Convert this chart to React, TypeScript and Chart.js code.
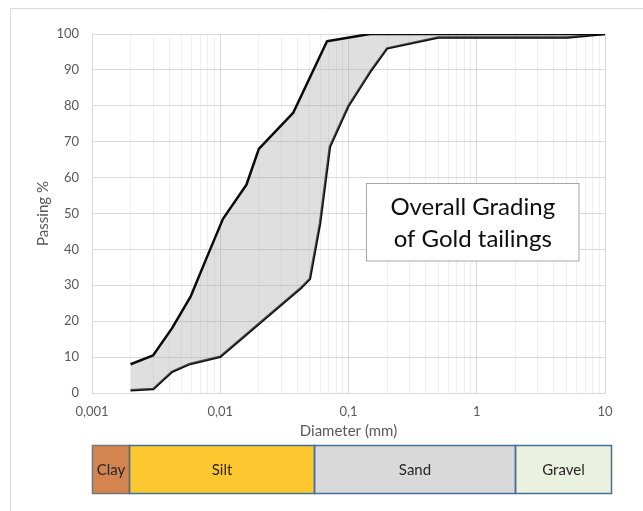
import React, { useEffect, useRef } from 'react';
import { Chart, registerables } from 'chart.js';

Chart.register(...registerables);

// Grading envelope: finer (upper) limit
const upperDiameter = [0.002, 0.003, 0.0042, 0.0059, 0.0078, 0.0105, 0.016, 0.02, 0.037, 0.068, 0.147, 10];
const upperPassing = [8, 10.5, 18, 27, 37.5, 48.5, 58, 68, 78, 98, 100, 100];

// Grading envelope: coarser (lower) limit
const lowerDiameter = [0.002, 0.003, 0.0042, 0.0058, 0.01, 0.043, 0.05, 0.06, 0.0716, 0.1, 0.151, 0.2, 0.5, 5.1, 10];
const lowerPassing = [0.8, 1.1, 5.9, 8.1, 10.1, 29.4, 31.8, 47.3, 68.6, 80, 90, 96, 99, 99, 100];

// Axis ticks
const decadeValues = [0.001, 0.01, 0.1, 1, 10];
const xTickLabels = ['0,001', '0,01', '0,1', '1', '10'];
const minorMultipliers = [2, 3, 4, 5, 6, 7, 8, 9];

// Soil classification band
const soilNames = ['Clay', 'Silt', 'Sand', 'Gravel'];
const soilBounds = [0.001, 0.00195, 0.054, 2.0, 11.1];
const soilColors = ['#d3844f', '#fdc72f', '#d9d9d9', '#ebf1df'];

const titleLines = ['Overall Grading', 'of Gold tailings'];

const FONT = 'Lato, "Open Sans", sans-serif';

export default function App() {
  const ref = useRef<HTMLCanvasElement | null>(null);

  useEffect(() => {
    if (!ref.current) return;

    const overlay = {
      id: 'overlay',
      afterDraw(chart: any) {
        const ctx = chart.ctx;
        const xs = chart.scales.x;
        ctx.save();
        // outer frame (chart area border, cropped)
        ctx.strokeStyle = '#d9d9d9';
        ctx.lineWidth = 1;
        ctx.beginPath();
        ctx.moveTo(10.5, 520);
        ctx.lineTo(10.5, 8.5);
        ctx.lineTo(660, 8.5);
        ctx.stroke();

        // text box
        const bx = 366.5, by = 183.5, bw = 212.5, bh = 77.5;
        ctx.fillStyle = '#ffffff';
        ctx.fillRect(bx, by, bw, bh);
        ctx.strokeStyle = '#a6a6a6';
        ctx.strokeRect(bx, by, bw, bh);
        ctx.fillStyle = '#0d0d0d';
        ctx.font = `24px ${FONT}`;
        ctx.textAlign = 'center';
        ctx.textBaseline = 'alphabetic';
        ctx.fillText(titleLines[0], bx + bw / 2, 215);
        ctx.fillText(titleLines[1], bx + bw / 2, 246.5);

        // soil classification band
        const top = 445.5, h = 48;
        ctx.font = `15px ${FONT}`;
        ctx.textBaseline = 'middle';
        for (let i = 0; i < soilNames.length; i++) {
          const x0 = Math.round(xs.getPixelForValue(soilBounds[i])) + 0.5;
          const x1 = Math.round(xs.getPixelForValue(soilBounds[i + 1])) + 0.5;
          ctx.fillStyle = soilColors[i];
          ctx.fillRect(x0, top, x1 - x0, h);
        }
        for (let i = 0; i < soilNames.length; i++) {
          const x0 = Math.round(xs.getPixelForValue(soilBounds[i])) + 0.5;
          const x1 = Math.round(xs.getPixelForValue(soilBounds[i + 1])) + 0.5;
          ctx.strokeStyle = i === 0 ? '#767676' : '#41719c';
          ctx.lineWidth = 1.5;
          ctx.strokeRect(x0, top, x1 - x0, h);
          ctx.fillStyle = '#262626';
          ctx.fillText(soilNames[i], (x0 + x1) / 2, top + h / 2 + 1);
        }
        ctx.restore();
      },
    };

    const xTicks: number[] = [];
    decadeValues.forEach((d, i) => {
      xTicks.push(d);
      if (i < decadeValues.length - 1) minorMultipliers.forEach((m) => xTicks.push(d * m));
    });

    const isMajor = (v: number) => decadeValues.some((d) => Math.abs(v - d) / d < 1e-6);

    const chart = new Chart(ref.current, {
      type: 'line',
      data: {
        datasets: [
          {
            data: upperDiameter.map((d, i) => ({ x: d, y: upperPassing[i] })),
            borderColor: '#0a0a0a',
            borderWidth: 2.5,
            pointRadius: 0,
            tension: 0,
            borderJoinStyle: 'round',
            fill: '+1',
            backgroundColor: 'rgba(170,170,170,0.38)',
          },
          {
            data: lowerDiameter.map((d, i) => ({ x: d, y: lowerPassing[i] })),
            borderColor: '#0a0a0a',
            borderWidth: 2.5,
            pointRadius: 0,
            tension: 0,
            borderJoinStyle: 'round',
            fill: false,
          },
        ],
      },
      options: {
        animation: false,
        responsive: false,
        layout: { padding: { left: 0, top: 34, right: 38, bottom: 71 } },
        plugins: { legend: { display: false }, tooltip: { enabled: false } },
        scales: {
          x: {
            type: 'logarithmic',
            min: 0.001,
            max: 10,
            afterBuildTicks: (scale: any) => {
              scale.ticks = xTicks.map((v) => ({ value: v, major: isMajor(v) }));
            },
            afterFit: (scale: any) => {
              scale.height = 47;
            },
            ticks: {
              autoSkip: false,
              maxRotation: 0,
              padding: 11,
              color: '#595959',
              font: { family: FONT, size: 13 },
              callback: (value: any) => {
                const idx = decadeValues.findIndex((d) => Math.abs(value - d) / d < 1e-6);
                return idx >= 0 ? xTickLabels[idx] : '';
              },
            },
            grid: {
              drawTicks: false,
              color: (c: any) => (c.tick && isMajor(c.tick.value) ? '#d9d9d9' : '#efefef'),
              lineWidth: 1,
            },
            border: { color: '#d9d9d9', width: 1 },
            title: {
              display: true,
              text: 'Diameter (mm)',
              color: '#595959',
              font: { family: FONT, size: 15 },
              padding: { top: 0, bottom: 0 },
            },
          },
          y: {
            min: 0,
            max: 100,
            afterFit: (scale: any) => {
              scale.width = 92;
            },
            ticks: {
              stepSize: 10,
              padding: 13,
              color: '#595959',
              font: { family: FONT, size: 13 },
            },
            grid: { drawTicks: false, color: '#d9d9d9', lineWidth: 1 },
            border: { color: '#d9d9d9', width: 1 },
            title: {
              display: true,
              text: 'Passing %',
              color: '#595959',
              font: { family: FONT, size: 15 },
              padding: { top: 34, bottom: 0 },
            },
          },
        },
      },
      plugins: [overlay],
    } as any);

    return () => chart.destroy();
  }, []);

  return (
    <div style={{ position: 'fixed', left: 0, top: 0, width: 643, height: 511, background: '#fff' }}>
      <canvas ref={ref} width={643} height={511} style={{ display: 'block' }} />
    </div>
  );
}
